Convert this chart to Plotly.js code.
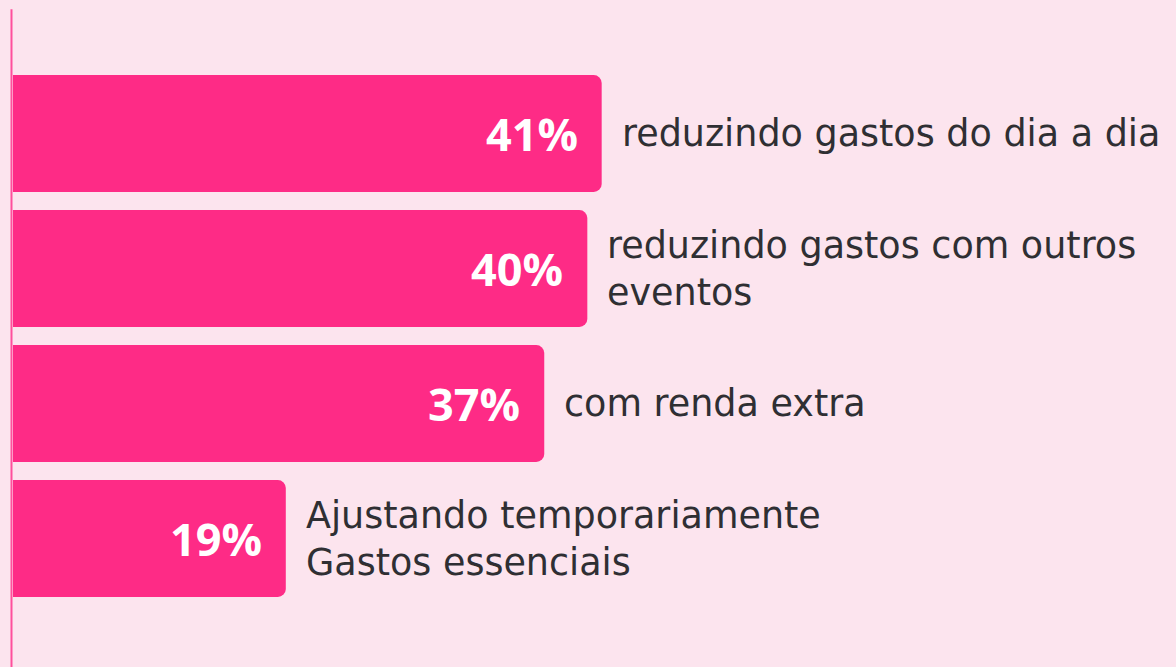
<!DOCTYPE html>
<html>
<head>
<meta charset="utf-8">
<script src="https://cdn.plot.ly/plotly-3.0.1.min.js"></script>
<style>
html,body{margin:0;padding:0;background:#fce4ee;}
#chart{width:1176px;height:667px;}
</style>
</head>
<body>
<div id="chart"></div>
<script>
const categories = ["reduzindo gastos do dia a dia", "reduzindo gastos com outros<br>eventos", "com renda extra", "Ajustando temporariamente<br>Gastos essenciais"];
const values = [41, 40, 37, 19];
const valueLabels = ["41%", "40%", "37%", "19%"];

const barColor = "#fe2b86";
const bg = "#fce4ee";

const trace = {
  type: "bar",
  orientation: "h",
  x: values,
  y: categories,
  marker: {color: barColor, line: {width: 0}},
  width: 0.865,
  hoverinfo: "skip"
};

const annotations = [];
values.forEach((v, i) => {
  annotations.push({
    x: v, y: categories[i], xref: "x", yref: "y",
    text: "<b>" + valueLabels[i] + "</b>",
    showarrow: false, xanchor: "right", yanchor: "middle", xshift: -22,
    font: {family: "Open Sans, sans-serif", size: 45, color: "#ffffff"}
  });
  annotations.push({
    x: v, y: categories[i], xref: "x", yref: "y",
    text: categories[i],
    showarrow: false, xanchor: "left", yanchor: "middle", align: "left", xshift: 18,
    font: {family: "DejaVu Sans, sans-serif", size: 36.5, color: "#2f2f33"}
  });
});

const layout = {
  width: 1176, height: 667,
  paper_bgcolor: bg, plot_bgcolor: bg,
  margin: {l: 13, r: 0, t: 66, b: 61, pad: 0},
  showlegend: false,
  barcornerradius: 8,
  xaxis: {range: [0, 81], visible: false, fixedrange: true},
  yaxis: {autorange: "reversed", visible: false, fixedrange: true, type: "category"},
  annotations: annotations,
  shapes: [{
    type: "line", xref: "paper", yref: "paper",
    x0: -0.0013, x1: -0.0013, y0: -0.12, y1: 1.105,
    line: {color: "#ff4f9c", width: 2}
  }]
};

Plotly.newPlot("chart", [trace], layout, {displayModeBar: false, staticPlot: true});
</script>
</body>
</html>
